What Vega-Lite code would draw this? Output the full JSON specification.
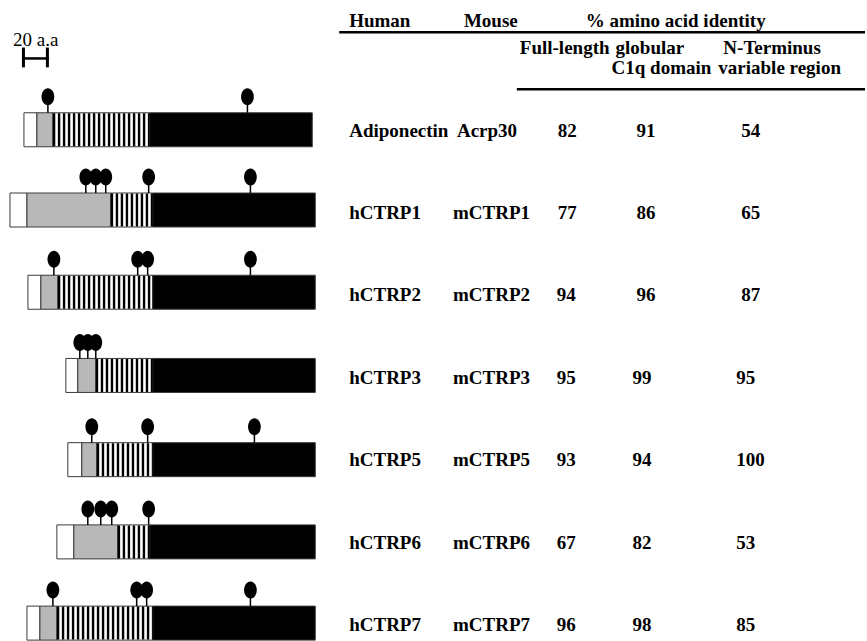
{
  "$schema": "https://vega.github.io/schema/vega-lite/v6.json",
  "width": 867,
  "height": 641,
  "autosize": {"type": "fit", "contains": "padding"},
  "padding": 0,
  "background": "white",
  "config": {"view": {"stroke": null}},
  "datasets": {
    "segments": [
      {"protein": "Adiponectin", "type": "signal", "x": 24, "x2": 37, "y": 131},
      {"protein": "Adiponectin", "type": "variable", "x": 37, "x2": 53, "y": 131},
      {"protein": "Adiponectin", "type": "collagen", "x": 53, "x2": 150, "y": 131},
      {"protein": "Adiponectin", "type": "C1q", "x": 150, "x2": 313, "y": 131},
      {"protein": "hCTRP1", "type": "signal", "x": 10, "x2": 27, "y": 212},
      {"protein": "hCTRP1", "type": "variable", "x": 27, "x2": 111, "y": 212},
      {"protein": "hCTRP1", "type": "collagen", "x": 111, "x2": 153, "y": 212},
      {"protein": "hCTRP1", "type": "C1q", "x": 153, "x2": 316, "y": 212},
      {"protein": "hCTRP2", "type": "signal", "x": 28, "x2": 41, "y": 295},
      {"protein": "hCTRP2", "type": "variable", "x": 41, "x2": 58, "y": 295},
      {"protein": "hCTRP2", "type": "collagen", "x": 58, "x2": 153, "y": 295},
      {"protein": "hCTRP2", "type": "C1q", "x": 153, "x2": 316, "y": 295},
      {"protein": "hCTRP3", "type": "signal", "x": 66, "x2": 78, "y": 379},
      {"protein": "hCTRP3", "type": "variable", "x": 78, "x2": 96, "y": 379},
      {"protein": "hCTRP3", "type": "collagen", "x": 96, "x2": 153, "y": 379},
      {"protein": "hCTRP3", "type": "C1q", "x": 153, "x2": 316, "y": 379},
      {"protein": "hCTRP5", "type": "signal", "x": 68, "x2": 82, "y": 464},
      {"protein": "hCTRP5", "type": "variable", "x": 82, "x2": 97, "y": 464},
      {"protein": "hCTRP5", "type": "collagen", "x": 97, "x2": 153, "y": 464},
      {"protein": "hCTRP5", "type": "C1q", "x": 153, "x2": 316, "y": 464},
      {"protein": "hCTRP6", "type": "signal", "x": 57, "x2": 74, "y": 547},
      {"protein": "hCTRP6", "type": "variable", "x": 74, "x2": 118, "y": 547},
      {"protein": "hCTRP6", "type": "collagen", "x": 118, "x2": 150, "y": 547},
      {"protein": "hCTRP6", "type": "C1q", "x": 150, "x2": 316, "y": 547},
      {"protein": "hCTRP7", "type": "signal", "x": 27, "x2": 40, "y": 629},
      {"protein": "hCTRP7", "type": "variable", "x": 40, "x2": 57, "y": 629},
      {"protein": "hCTRP7", "type": "collagen", "x": 57, "x2": 153, "y": 629},
      {"protein": "hCTRP7", "type": "C1q", "x": 153, "x2": 316, "y": 629}
    ],
    "sites": [
      {"protein": "Adiponectin", "x": 48, "y": 131},
      {"protein": "Adiponectin", "x": 248, "y": 131},
      {"protein": "hCTRP1", "x": 86, "y": 212},
      {"protein": "hCTRP1", "x": 96, "y": 212},
      {"protein": "hCTRP1", "x": 106, "y": 212},
      {"protein": "hCTRP1", "x": 149, "y": 212},
      {"protein": "hCTRP1", "x": 251, "y": 212},
      {"protein": "hCTRP2", "x": 54, "y": 295},
      {"protein": "hCTRP2", "x": 138, "y": 295},
      {"protein": "hCTRP2", "x": 148, "y": 295},
      {"protein": "hCTRP2", "x": 251, "y": 295},
      {"protein": "hCTRP3", "x": 80, "y": 379},
      {"protein": "hCTRP3", "x": 88, "y": 379},
      {"protein": "hCTRP3", "x": 96, "y": 379},
      {"protein": "hCTRP5", "x": 92, "y": 464},
      {"protein": "hCTRP5", "x": 148, "y": 464},
      {"protein": "hCTRP5", "x": 255, "y": 464},
      {"protein": "hCTRP6", "x": 88, "y": 547},
      {"protein": "hCTRP6", "x": 101, "y": 547},
      {"protein": "hCTRP6", "x": 112, "y": 547},
      {"protein": "hCTRP6", "x": 149, "y": 547},
      {"protein": "hCTRP7", "x": 53, "y": 629},
      {"protein": "hCTRP7", "x": 137, "y": 629},
      {"protein": "hCTRP7", "x": 147, "y": 629},
      {"protein": "hCTRP7", "x": 251, "y": 629}
    ],
    "hlines": [
      {"x": 340, "x2": 867, "y": 32.5},
      {"x": 518, "x2": 867, "y": 90},
      {"x": 22, "x2": 49, "y": 59}
    ],
    "vlines": [
      {"x": 23.5, "y": 48, "y2": 68},
      {"x": 47.5, "y": 48, "y2": 68}
    ],
    "labels": [
      {"label": "Human", "x": 350, "y": 27},
      {"label": "Mouse", "x": 465, "y": 27},
      {"label": "% amino acid identity", "x": 587, "y": 27},
      {"label": "Full-length", "x": 521, "y": 55},
      {"label": "globular", "x": 617, "y": 55},
      {"label": "N-Terminus", "x": 725, "y": 55},
      {"label": "C1q domain", "x": 613, "y": 75},
      {"label": "variable region", "x": 720, "y": 75},
      {"label": "Adiponectin", "x": 350, "y": 138},
      {"label": "Acrp30", "x": 458, "y": 138},
      {"label": "82", "x": 559, "y": 138},
      {"label": "91", "x": 638, "y": 138},
      {"label": "54", "x": 743, "y": 138},
      {"label": "hCTRP1", "x": 350, "y": 221},
      {"label": "mCTRP1", "x": 454, "y": 221},
      {"label": "77", "x": 559, "y": 221},
      {"label": "86", "x": 638, "y": 221},
      {"label": "65", "x": 743, "y": 221},
      {"label": "hCTRP2", "x": 350, "y": 304},
      {"label": "mCTRP2", "x": 454, "y": 304},
      {"label": "94", "x": 558, "y": 304},
      {"label": "96", "x": 638, "y": 304},
      {"label": "87", "x": 743, "y": 304},
      {"label": "hCTRP3", "x": 350, "y": 388},
      {"label": "mCTRP3", "x": 454, "y": 388},
      {"label": "95", "x": 558, "y": 388},
      {"label": "99", "x": 634, "y": 388},
      {"label": "95", "x": 738, "y": 388},
      {"label": "hCTRP5", "x": 350, "y": 470},
      {"label": "mCTRP5", "x": 454, "y": 470},
      {"label": "93", "x": 558, "y": 470},
      {"label": "94", "x": 634, "y": 470},
      {"label": "100", "x": 738, "y": 470},
      {"label": "hCTRP6", "x": 350, "y": 554},
      {"label": "mCTRP6", "x": 454, "y": 554},
      {"label": "67", "x": 558, "y": 554},
      {"label": "82", "x": 634, "y": 554},
      {"label": "53", "x": 738, "y": 554},
      {"label": "hCTRP7", "x": 350, "y": 637},
      {"label": "mCTRP7", "x": 454, "y": 637},
      {"label": "96", "x": 558, "y": 637},
      {"label": "98", "x": 634, "y": 637},
      {"label": "85", "x": 738, "y": 637}
    ],
    "scalelabel": [
      {"label": "20 a.a", "x": 13, "y": 46}
    ]
  },
  "encoding": {
    "x": {"field": "x", "type": "quantitative", "scale": {"domain": [0, 867], "nice": false, "zero": false}, "axis": null},
    "y": {"field": "y", "type": "quantitative", "scale": {"domain": [0, 641], "reverse": true, "nice": false, "zero": false}, "axis": null}
  },
  "layer": [
    {
      "data": {"name": "segments"},
      "mark": {"type": "rect", "yOffset": -17, "y2Offset": 17, "stroke": "#3a3a3a", "strokeWidth": 1},
      "encoding": {
        "x2": {"field": "x2"},
        "y2": {"field": "y"},
        "fill": {"field": "type", "type": "nominal", "legend": null,
          "scale": {"domain": ["signal", "variable", "collagen", "C1q"], "range": ["#ffffff", "#b8b8b8", "#ffffff", "#000000"]}}
      }
    },
    {
      "data": {"name": "segments"},
      "transform": [{"filter": "datum.type === 'collagen'"}],
      "mark": {"type": "rule", "color": "#000000", "strokeWidth": 33, "strokeDash": [2.4, 2.6], "strokeCap": "butt"},
      "encoding": {"x2": {"field": "x2"}}
    },
    {
      "data": {"name": "sites"},
      "mark": {"type": "rule", "color": "#000000", "strokeWidth": 1.5, "yOffset": -17, "y2Offset": -30},
      "encoding": {"y2": {"field": "y"}}
    },
    {
      "data": {"name": "sites"},
      "mark": {"type": "point", "shape": "M -0.75 0 A 0.75 1 0 1 1 0.75 0 A 0.75 1 0 1 1 -0.75 0 Z", "size": 289, "filled": true, "color": "#000000", "opacity": 1, "yOffset": -33}
    },
    {
      "data": {"name": "hlines"},
      "mark": {"type": "rule", "color": "#000000", "strokeWidth": 2.5, "strokeCap": "butt"},
      "encoding": {"x2": {"field": "x2"}}
    },
    {
      "data": {"name": "vlines"},
      "mark": {"type": "rule", "color": "#000000", "strokeWidth": 3, "strokeCap": "butt"},
      "encoding": {"y2": {"field": "y2"}}
    },
    {
      "data": {"name": "labels"},
      "mark": {"type": "text", "font": "Liberation Serif", "fontWeight": "bold", "fontSize": 19, "align": "left", "baseline": "alphabetic", "color": "#000000"},
      "encoding": {"text": {"field": "label"}}
    },
    {
      "data": {"name": "scalelabel"},
      "mark": {"type": "text", "font": "Liberation Serif", "fontSize": 19, "align": "left", "baseline": "alphabetic", "color": "#000000"},
      "encoding": {"text": {"field": "label"}}
    }
  ]
}
